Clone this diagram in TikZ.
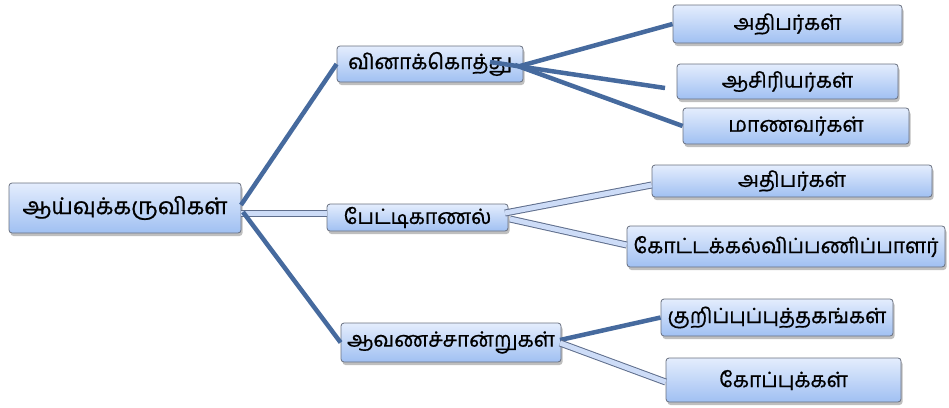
\documentclass[tikz,border=0pt]{standalone}
\usepackage{fontspec}
\newfontfamily\tamilfont[Script=Tamil, FakeBold=0.7]{Hind Madurai}
\usetikzlibrary{shadows}
\definecolor{lineblue}{RGB}{70,106,158}
\definecolor{boxtop}{RGB}{228,237,253}
\definecolor{boxbot}{RGB}{160,192,242}
\definecolor{boxedge}{RGB}{105,112,128}
\definecolor{hollowedge}{RGB}{95,110,140}
\definecolor{hollowfill}{RGB}{205,220,247}
\tikzset{
  tbox/.style={draw=boxedge, line width=0.8pt, rounded corners=3pt,
    top color=boxtop, bottom color=boxbot, inner sep=0pt,
    font=\tamilfont\fontsize{21}{24}\selectfont,
    drop shadow={shadow xshift=1.5pt, shadow yshift=-3pt, opacity=0.25, fill=black}},
  solidlink/.style={draw=lineblue, line width=4.5pt},
  hollowlink/.style={draw=hollowedge, line width=1pt, double=hollowfill, double distance=5pt}
}
\begin{document}
\begin{tikzpicture}[x=1pt,y=-1pt]
\useasboundingbox (0,0) rectangle (949,407);
\node[tbox, minimum width=232pt, minimum height=50pt, font=\tamilfont\fontsize{23}{26}\selectfont] (root) at (125,208) {ஆய்வுக்கருவிகள்};
\node[tbox, minimum width=186pt, minimum height=36pt] (q) at (430,64) {வினாக்கொத்து};
\node[tbox, minimum width=181pt, minimum height=27pt] (p) at (417.5,217.5) {பேட்டிகாணல்};
\node[tbox, minimum width=220pt, minimum height=39pt] (d) at (451,342.5) {ஆவணச்சான்றுகள்};
\node[tbox, minimum width=229pt, minimum height=38pt] (a1) at (787.5,24) {அதிபர்கள்};
\node[tbox, minimum width=221pt, minimum height=35pt] (a2) at (787.5,81.5) {ஆசிரியர்கள்};
\node[tbox, minimum width=226pt, minimum height=36pt] (a3) at (796,126) {மாணவர்கள்};
\node[tbox, minimum width=280pt, minimum height=32pt] (b1) at (792,181) {அதிபர்கள்};
\node[tbox, minimum width=318pt, minimum height=41pt] (b2) at (786,246.5) {கோட்டக்கல்விப்பணிப்பாளர்};
\node[tbox, minimum width=232pt, minimum height=37pt] (c1) at (777,317.5) {குறிப்புப்புத்தகங்கள்};
\node[tbox, minimum width=235pt, minimum height=44pt] (c2) at (783.5,380) {கோப்புக்கள்};
% named connector points
\coordinate (rq) at (241,205);
\coordinate (rp) at (241,213);
\coordinate (rd) at (243,212);
\coordinate (q1) at (520,66);
\coordinate (q2) at (490,62);
\coordinate (q3) at (515,65);
\coordinate (a2end) at (665,88);
\coordinate (p1) at (505,213);
\coordinate (p2) at (510,219);
\coordinate (d1) at (560,340);
\coordinate (d2) at (560,343);
% connectors
\draw[solidlink] (rq) -- (q.west);
\draw[hollowlink] (rp) -- (rp -| p.west);
\draw[solidlink] (rd) -- (d.west);
\draw[solidlink] (q1) -- (a1.west);
\draw[solidlink] (q2) -- (a2end);
\draw[solidlink] (q3) -- (a3.west);
\draw[hollowlink] (p1) -- ([yshift=-4pt]b1.west);
\draw[hollowlink] (p2) -- ([yshift=1.5pt]b2.west);
\draw[solidlink] (d1) -- (c1.west);
\draw[hollowlink] (d2) -- ([yshift=-2pt]c2.west);
\end{tikzpicture}
\end{document}
